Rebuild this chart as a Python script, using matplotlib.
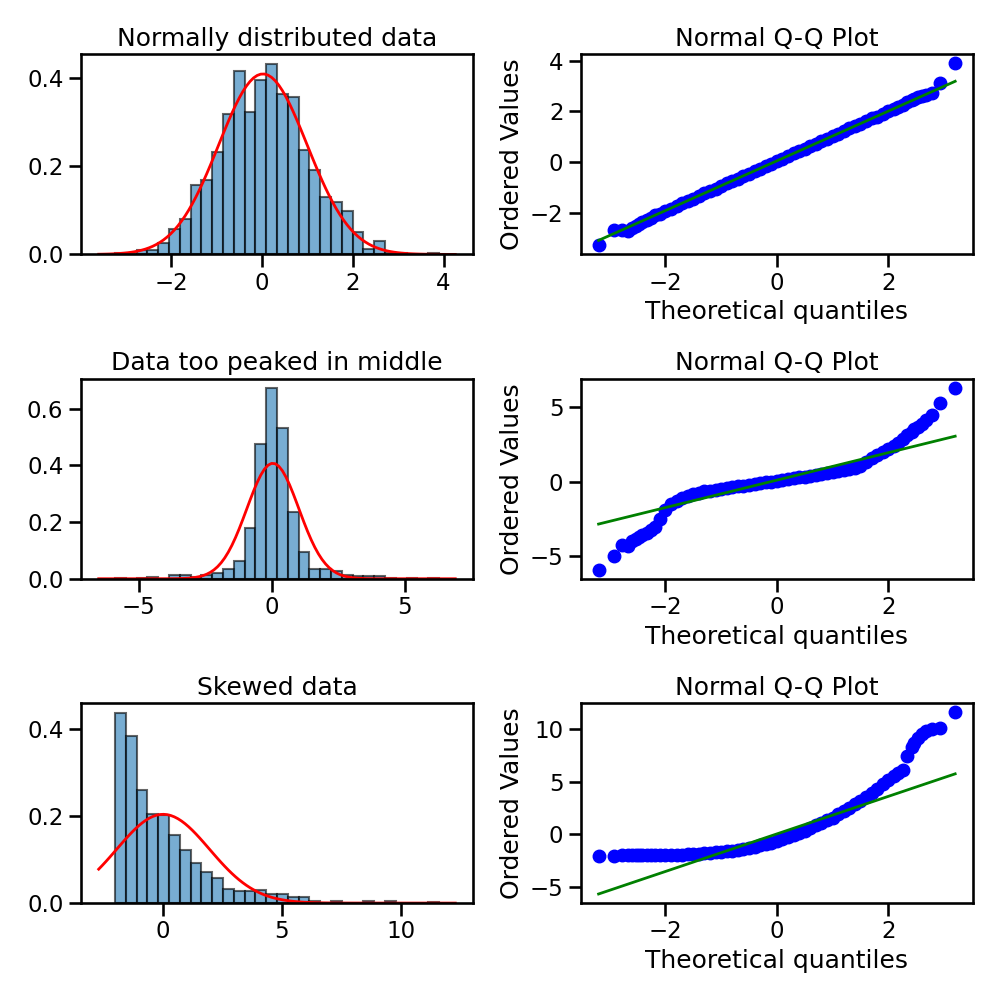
import numpy as np
import matplotlib
matplotlib.use("Agg")
import matplotlib.pyplot as plt
import seaborn as sns

sns.set_context("talk")

# --- histogram data (density per bin, 30 equal bins between lo and hi) ---
hist_titles = ["Normally distributed data", "Data too peaked in middle", "Skewed data"]
hist_lo = [-3.24, -5.90, -2.03]
hist_hi = [3.90, 6.29, 11.62]

dens_normal = [0.004, 0.0, 0.011, 0.011, 0.026, 0.057, 0.081, 0.158, 0.168, 0.232,
               0.318, 0.416, 0.323, 0.396, 0.432, 0.363, 0.357, 0.236, 0.191, 0.131,
               0.119, 0.098, 0.051, 0.013, 0.031, 0.004, 0.004, 0.0, 0.0, 0.004]
dens_peaked = [0.0025, 0.0, 0.0025, 0.005, 0.0, 0.015, 0.015, 0.005, 0.014, 0.021,
               0.036, 0.062, 0.181, 0.477, 0.673, 0.532, 0.237, 0.094, 0.033, 0.033,
               0.027, 0.013, 0.008, 0.008, 0.008, 0.0025, 0.0, 0.0025, 0.0, 0.0025]
dens_skewed = [0.438, 0.385, 0.261, 0.205, 0.202, 0.156, 0.121, 0.092, 0.072, 0.058,
               0.032, 0.028, 0.027, 0.029, 0.020, 0.020, 0.014, 0.014, 0.004, 0.0,
               0.004, 0.0, 0.0, 0.004, 0.0, 0.004, 0.0, 0.0, 0.0, 0.002]
hist_dens = [dens_normal, dens_peaked, dens_skewed]

# fitted normal (mean, std) drawn in red over each histogram
fit_mu = [0.02, 0.04, 0.0]
fit_sd = [0.975, 0.978, 1.955]

# --- Q-Q data: theoretical quantiles shared, ordered values per sample ---
qq_x = [-3.20, -2.93, -2.78, -2.68, -2.60, -2.53, -2.47, -2.42, -2.34, -2.26, -2.18, -2.10,
        -2.0, -1.9, -1.8, -1.7, -1.6, -1.5, -1.4, -1.3, -1.2, -1.1, -1.0, -0.9, -0.8, -0.7,
        -0.6, -0.5, -0.4, -0.3, -0.2, -0.1, 0.0, 0.1, 0.2, 0.3, 0.4, 0.5, 0.6, 0.7, 0.8, 0.9,
        1.0, 1.1, 1.2, 1.3, 1.4, 1.5, 1.6, 1.7, 1.8, 1.9, 2.0,
        2.10, 2.18, 2.26, 2.34, 2.42, 2.47, 2.53, 2.60, 2.68, 2.78, 2.93, 3.20]

qq_normal = [-3.28, -2.69, -2.69, -2.70, -2.60, -2.50, -2.42, -2.36, -2.27, -2.20, -2.10, -2.03,
             -1.93, -1.84, -1.73, -1.62, -1.54, -1.44, -1.33, -1.22, -1.14, -1.05, -0.95, -0.84,
             -0.73, -0.66, -0.56, -0.45, -0.35, -0.26, -0.15, -0.06, 0.04, 0.13, 0.25, 0.34,
             0.42, 0.53, 0.64, 0.72, 0.82, 0.93, 1.03, 1.11, 1.21, 1.33, 1.43, 1.50, 1.62,
             1.72, 1.79, 1.90, 2.02,
             2.08, 2.16, 2.25, 2.36, 2.45, 2.50, 2.56, 2.62, 2.66, 2.72, 3.13, 3.89]
qq_peaked = [-5.90, -5.00, -4.28, -4.30, -4.00, -3.85, -3.70, -3.60, -3.42, -3.22, -3.02, -2.50,
             -1.90, -1.52, -1.28, -1.10, -0.95, -0.83, -0.74, -0.66, -0.60, -0.54, -0.48, -0.43,
             -0.37, -0.32, -0.27, -0.22, -0.16, -0.11, -0.05, 0.00, 0.06, 0.11, 0.17, 0.22,
             0.28, 0.34, 0.40, 0.46, 0.52, 0.58, 0.64, 0.70, 0.76, 0.83, 0.92, 1.05, 1.30,
             1.55, 1.80, 2.00, 2.20,
             2.42, 2.60, 2.85, 3.10, 3.35, 3.50, 3.65, 3.85, 4.10, 4.45, 5.29, 6.29]
qq_skewed = [-2.00, -2.00, -1.99, -1.99, -1.99, -1.98, -1.98, -1.98, -1.98, -1.97, -1.97, -1.96,
             -1.95, -1.94, -1.93, -1.91, -1.89, -1.86, -1.83, -1.79, -1.75, -1.70, -1.65, -1.60,
             -1.53, -1.46, -1.37, -1.27, -1.16, -1.04, -0.91, -0.77, -0.62, -0.45, -0.27, -0.07,
             0.14, 0.36, 0.60, 0.86, 1.10, 1.35, 1.60, 1.90, 2.20, 2.50, 2.85, 3.20, 3.55,
             3.95, 4.35, 4.75, 5.15,
             5.50, 5.80, 6.15, 7.40, 8.30, 8.70, 9.10, 9.50, 9.80, 9.95, 10.10, 11.60]
qq_values = [qq_normal, qq_peaked, qq_skewed]

# least-squares line (slope, intercept) shown in green
qq_slope = [0.98, 0.92, 1.78]
qq_icept = [0.05, 0.10, 0.05]

n_bins = 30

fig, axes = plt.subplots(3, 2, figsize=(10, 10))

for i in range(3):
    ax = axes[i, 0]
    edges = np.linspace(hist_lo[i], hist_hi[i], n_bins + 1)
    ax.bar(edges[:-1], hist_dens[i], width=np.diff(edges), align='edge',
           color='C0', alpha=0.6, edgecolor='black', linewidth=1.5)
    xmin, xmax = ax.get_xlim()
    xs = np.linspace(xmin, xmax, 100)
    pdf = np.exp(-0.5 * ((xs - fit_mu[i]) / fit_sd[i]) ** 2) / (fit_sd[i] * np.sqrt(2 * np.pi))
    ax.plot(xs, pdf, 'r', linewidth=2)
    ax.set_title(hist_titles[i])

    ax = axes[i, 1]
    xq = np.array(qq_x)
    ax.plot(xq, qq_values[i], 'bo')
    ax.plot(xq, qq_slope[i] * xq + qq_icept[i], 'g-', linewidth=2)
    ax.set_title('Normal Q-Q Plot')
    ax.set_xlabel('Theoretical quantiles')
    ax.set_ylabel('Ordered Values')

plt.tight_layout()
plt.savefig('out.png', dpi=100)
